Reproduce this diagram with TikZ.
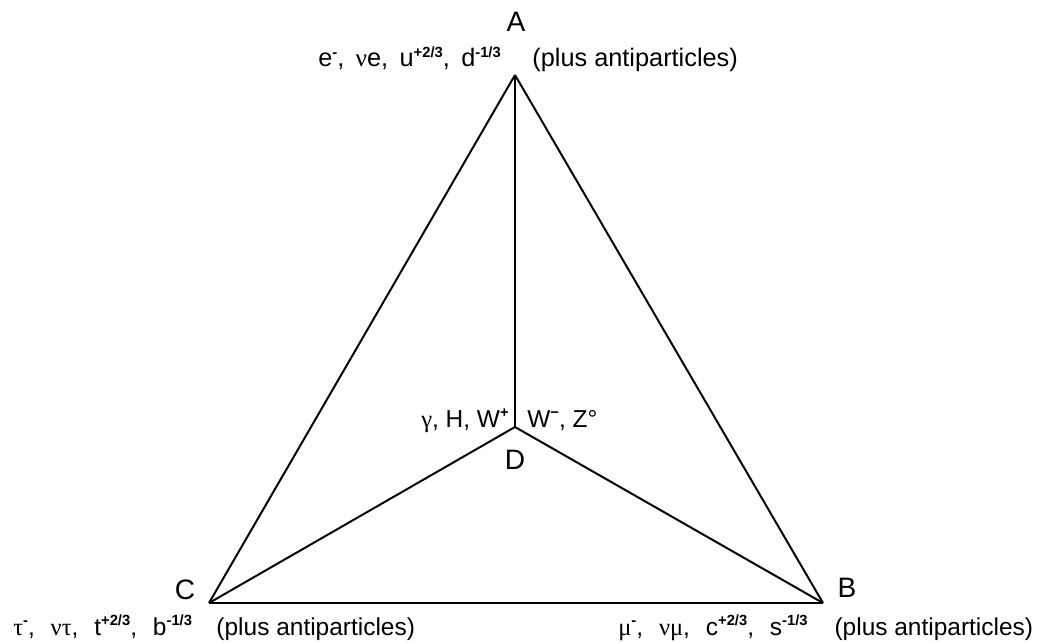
\documentclass[tikz,border=0pt]{standalone}
\usepackage{fontspec}
\setmainfont{Liberation Sans}
\newfontfamily\grk{Liberation Serif}
\usetikzlibrary{positioning}
% raised bold charges
\newcommand{\sps}[1]{\raisebox{7pt}{\fontsize{10.5}{12}\selectfont\bfseries #1}}
\newcommand{\gap}{\hspace{0.65em}}

\begin{document}
\begin{tikzpicture}[x=0.025cm,y=-0.025cm,edge/.style={line width=1.4pt},vtx/.style={inner sep=0pt,font=\fontsize{20}{24}\selectfont},lbl/.style={inner sep=0pt,font=\fontsize{17.4}{20}\selectfont}]
\useasboundingbox (0,0) rectangle (1041,643);
\coordinate (a) at (515,75);\coordinate (b) at (823,603);\coordinate (c) at (209,603);\coordinate (d) at (515,427);
\draw[edge] (a)--(b);\draw[edge] (b)--(c);\draw[edge] (c)--(a);
\draw[edge] (a)--(d);\draw[edge] (d)--(b);\draw[edge] (d)--(c);
\node[vtx] (la) at (516,22){A};\node[vtx] (lb) at (847,588){B};\node[vtx] (lc) at (185,590){C};\node[vtx] (ld) at (515,460){D};
\node[lbl,anchor=base west,font=\fontsize{18}{20}\selectfont] (ta) at (318,67){e\sps{-},\hspace{0.45em}{\grk ν}e,\hspace{0.45em}u\sps{+2/3},\hspace{0.45em}d\sps{-1/3}\hspace{1.25em}(plus antiparticles)};
\node[lbl,anchor=base west] (tc) at (13,635){{\grk τ}\sps{-},\gap{\grk ντ},\gap t\sps{+2/3},\gap b\sps{-1/3}\hspace{1em}(plus antiparticles)};
\node[lbl,anchor=base west] (tb) at (618,635){{\grk μ}\sps{-},\gap{\grk νμ},\gap c\sps{+2/3},\gap s\sps{-1/3}\hspace{1.1em}(plus antiparticles)};
\node[lbl,anchor=base east] (tdl) at (509,427){{\grk γ}, H, W\sps{+}};
\node[lbl,anchor=base west] (tdr) at (527,427){W\sps{−}, Z°};
\end{tikzpicture}
\end{document}
